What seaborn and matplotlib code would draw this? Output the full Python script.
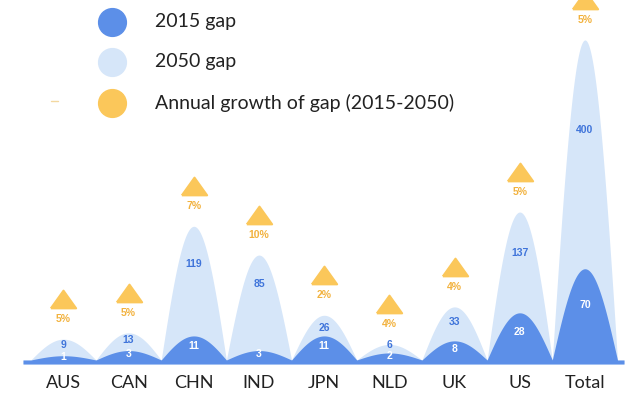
import numpy as np
import pandas as pd
import seaborn as sns
import matplotlib
matplotlib.use("Agg")
import matplotlib.pyplot as plt
from matplotlib.lines import Line2D
from matplotlib.transforms import offset_copy

# ---- data ----
countries = ["AUS", "CAN", "CHN", "IND", "JPN", "NLD", "UK", "US", "Total"]
gap_2015 = [1, 3, 11, 3, 11, 2, 8, 28, 70]
gap_2050 = [9, 13, 119, 85, 26, 6, 33, 137, 400]
growth_pct = [5, 5, 7, 10, 2, 4, 4, 5, 5]

DARK = "#5c8fe8"
LIGHT = "#d6e6f9"
YELLOW = "#fbc75a"
PCT_COLOR = "#f2b23e"
VALUE_BLUE = "#3f74da"

sns.set_theme(style="white")
plt.rcParams["font.family"] = ["Lato", "DejaVu Sans"]

# compressed (power) value axis so small gaps stay visible next to the total
P = 0.72
fwd = lambda v: np.sign(v) * np.abs(v) ** P
inv = lambda u: np.sign(u) * np.abs(u) ** (1 / P)


def hump(x, center):
    """Rounded hump (a cosine arch on screen) spanning one category width."""
    d = x - center
    arch = np.where(np.abs(d) <= 0.5, np.cos(np.pi * np.clip(d, -0.5, 0.5)), 0.0)
    return np.clip(arch, 0, None) ** (1 / P)


df = pd.DataFrame({"country": countries, "gap_2015": gap_2015,
                   "gap_2050": gap_2050, "growth": growth_pct})
df["pos"] = np.arange(len(df))

x = np.linspace(-0.62, 8.6, 3000)
light_curve = np.max([v * hump(x, c) for v, c in zip(df.gap_2050, df.pos)], axis=0)
dark_curve = np.max([v * hump(x, c) for v, c in zip(df.gap_2015, df.pos)], axis=0)

fig = plt.figure(figsize=(6.35, 3.96), dpi=100)
ax = fig.add_axes([23 / 635, 1 - 364 / 396, 601 / 635, 364 / 396])
ax.set_yscale("function", functions=(fwd, inv))

band = -0.91
ax.fill_between(x, band, light_curve, color=LIGHT, lw=0)
ax.fill_between(x, band, dark_curve, color=DARK, lw=0)

ax.set_xlim(-0.62, 8.6)
ax.set_ylim(band, 471)

# value labels: white inside the 2015 hump, blue in the 2050 hump above it
label_font = ["Liberation Sans", "DejaVu Sans"]
for _, r in df.iterrows():
    dark_pos = 0.6 * fwd(r.gap_2015)
    light_pos = max(0.72 * fwd(r.gap_2050), dark_pos + 2.6)
    ax.text(r.pos, inv(light_pos), f"{r.gap_2050}", ha="center",
            va="center", color=VALUE_BLUE, fontsize=7.5, fontweight="bold",
            family=label_font)
    ax.text(r.pos, inv(dark_pos), f"{r.gap_2015}", ha="center",
            va="center", color="white", fontsize=7.5, fontweight="bold",
            family=label_font)

# growth markers above each peak
tri = [(-1, -0.7), (1, -0.7), (0, 0.7), (-1, -0.7)]
tri_tr = offset_copy(ax.transData, fig=fig, y=29, units="points")
pct_tr = offset_copy(ax.transData, fig=fig, y=14.5, units="points")
ax.scatter(df.pos, df.gap_2050, marker=tri, s=330, color=YELLOW,
           edgecolor=YELLOW, linewidths=1.5, transform=tri_tr, clip_on=False, zorder=5)
for _, r in df.iterrows():
    ax.text(r.pos, r.gap_2050, f"{r.growth}%", transform=pct_tr, ha="center",
            va="center", color=PCT_COLOR, fontsize=7.5, fontweight="bold",
            family=label_font)

ax.set_xticks(df.pos)
ax.set_xticklabels(df.country, fontsize=13, color="#222222")
ax.tick_params(axis="x", length=0, pad=8)
ax.set_yticks([])
ax.set_ylabel("")
sns.despine(ax=ax, left=True, bottom=True)

# legend with large round swatches
legend_items = [(DARK, "2015 gap", 22), (LIGHT, "2050 gap", 62),
                (YELLOW, "Annual growth of gap (2015-2050)", 103)]
for color, label, ypix in legend_items:
    yf = 1 - ypix / 396
    fig.add_artist(Line2D([112 / 635], [yf], marker="o", markersize=20,
                          color=color, lw=0, transform=fig.transFigure))
    fig.text(155 / 635, yf, label, fontsize=14, va="center", ha="left", color="#222222")
fig.add_artist(Line2D([51 / 635, 58 / 635], [1 - 101 / 396] * 2, color="#f3d8a0",
                      lw=1, transform=fig.transFigure))

fig.savefig("out.png", dpi=100)
